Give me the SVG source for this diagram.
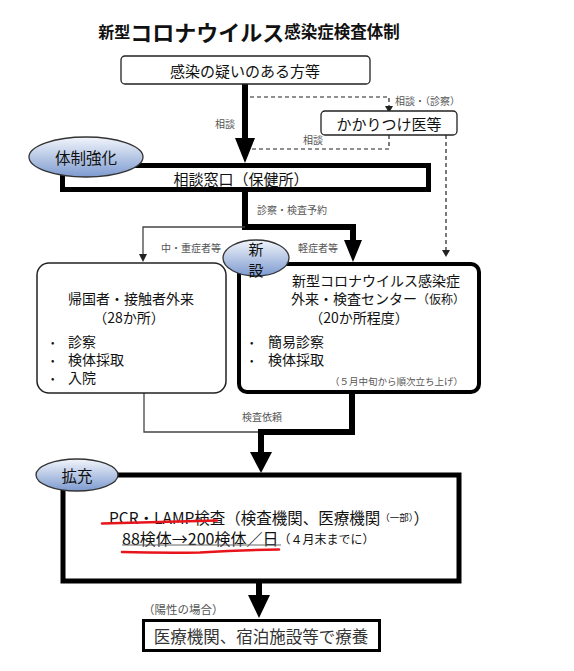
<svg xmlns="http://www.w3.org/2000/svg" width="574" height="671" viewBox="0 0 574 671">
<defs>
<linearGradient id="blue" x1="0" y1="0" x2="0" y2="1">
<stop offset="0" stop-color="#f2f5fb"/>
<stop offset="1" stop-color="#7d9bd0"/>
</linearGradient>
<style>
text{font-family:"Noto Sans CJK JP","Noto Sans",sans-serif;dominant-baseline:central;fill:#111}
.c{text-anchor:middle}
.lbl{font-size:10px;fill:#555}
.n{font-size:15px}
.b{font-size:10px}
.thick{fill:none;stroke:#000;stroke-width:6}
.thin{fill:none;stroke:#444;stroke-width:1.3}
.dash{fill:none;stroke:#222;stroke-width:1.2;stroke-dasharray:4 3}
.oval{fill:url(#blue);stroke:#333;stroke-width:1.3}
</style>
</defs>
<rect width="574" height="671" fill="#fff"/>
<g id="title">
<text x="249" y="31" class="c" style="font-weight:bold"><tspan font-size="16">新型</tspan><tspan font-size="22">コロナウイルス</tspan><tspan font-size="16.5">感染症検査体制</tspan></text>
</g>
<g id="connectors">
<line x1="245" y1="84" x2="245" y2="140" class="thick"/>
<polygon points="235,138 255,138 245,163" fill="#000"/>
<path d="M250,97 H389 V106" class="dash"/>
<polygon points="385,106 393,106 389,113" fill="#222"/>
<path d="M389,135 V149 H252" class="dash"/>
<path d="M446,135 V250" class="dash"/>
<polygon points="442,250 450,250 446,257" fill="#222"/>
<polyline points="245,192 245,227 353,227 353,242" class="thick"/>
<polygon points="344,240 362,240 353,262" fill="#000"/>
<polyline points="245,227 143,227 143,255" class="thin"/>
<polygon points="139,254 147,254 143,262" fill="#222"/>
<polyline points="144,393 144,432 262,432" class="thin"/>
<polyline points="352,392 352,432 261,432 261,454" class="thick"/>
<polygon points="250,452 272,452 261,473" fill="#000"/>
<line x1="259" y1="581" x2="259" y2="597" class="thick"/>
<polygon points="248,595 270,595 259,618" fill="#000"/>
<text x="215" y="123" class="lbl">相談</text>
<text x="395" y="100" class="lbl">相談・（診察）</text>
<text x="303" y="139" class="lbl">相談</text>
<text x="257" y="209" class="lbl">診察・検査予約</text>
<text x="161" y="247" class="lbl">中・重症者等</text>
<text x="298" y="247" class="lbl">軽症者等</text>
<text x="262" y="416" class="lbl c">検査依頼</text>
<text x="143" y="609" style="font-size:11.5px;fill:#555">（陽性の場合）</text>
</g>
<g id="suspected">
<rect x="121" y="56" width="249" height="28" rx="4" fill="#fff" stroke="#222" stroke-width="1.3"/>
<text x="245" y="70" class="c n">感染の疑いのある方等</text>
</g>
<g id="gp">
<rect x="321" y="111" width="136" height="24" rx="4" fill="#fff" stroke="#222" stroke-width="1.3"/>
<text x="389" y="123" class="c n">かかりつけ医等</text>
</g>
<g id="consult">
<rect x="62.5" y="165.5" width="366" height="24" fill="#fff" stroke="#000" stroke-width="5"/>
<text x="241" y="178" class="c n">相談窓口（保健所）</text>
</g>
<g id="tag-strengthen">
<ellipse cx="86" cy="157" rx="57" ry="20" class="oval"/>
<text x="86" y="157" class="c" font-size="15.5">体制強化</text>
</g>
<g id="returnee">
<rect x="37" y="263" width="189" height="130" rx="12" fill="#fff" stroke="#222" stroke-width="1.5"/>
<text x="131" y="298" class="c" font-size="14">帰国者・接触者外来</text>
<text x="129" y="317" class="c" font-size="14">（28か所）</text>
<text x="51" y="341" class="b">•</text>
<text x="68" y="341" font-size="14">診察</text>
<text x="51" y="359" class="b">•</text>
<text x="68" y="359" font-size="14">検体採取</text>
<text x="51" y="377" class="b">•</text>
<text x="68" y="377" font-size="14">入院</text>
</g>
<g id="center">
<rect x="239" y="264" width="240" height="128" rx="8" fill="#fff" stroke="#000" stroke-width="4"/>
<text x="376" y="280" class="c" font-size="14">新型コロナウイルス感染症</text>
<text x="291" y="298" font-size="14">外来・検査センター<tspan font-size="12">（仮称）</tspan></text>
<text x="359" y="317" class="c" font-size="14">（20か所程度）</text>
<text x="250" y="341" class="b">•</text>
<text x="268" y="341" font-size="14">簡易診察</text>
<text x="250" y="359" class="b">•</text>
<text x="268" y="359" font-size="14">検体採取</text>
<text x="463" y="381" style="font-size:9.5px;fill:#555;text-anchor:end">（５月中旬から順次立ち上げ）</text>
</g>
<g id="tag-new">
<ellipse cx="256" cy="258" rx="33" ry="18" class="oval"/>
<text x="256" y="248" class="c" font-size="15">新</text>
<text x="256" y="269" class="c" font-size="15">設</text>
</g>
<g id="pcr">
<rect x="63" y="475" width="396" height="106" fill="#fff" stroke="#000" stroke-width="5"/>
<text x="109" y="517" font-size="15.5">PCR・LAMP検査（検査機関、医療機関<tspan font-size="9.5">（一部）</tspan>）</text>
<text x="122" y="538" font-size="16">88検体→200検体／日<tspan font-size="12">（４月末までに）</tspan></text>
<line x1="122" y1="545" x2="281" y2="545" stroke="#666" stroke-width="1"/>
<path d="M102,523.5 Q160,522 217,520.5" fill="none" stroke="#e8141c" stroke-width="2.5" stroke-linecap="round"/>
<path d="M122,552 Q160,553 200,552.5 Q240,550 279,549.5" fill="none" stroke="#e8141c" stroke-width="2.5" stroke-linecap="round"/>
</g>
<g id="tag-expand">
<ellipse cx="77" cy="475" rx="41" ry="16" class="oval"/>
<text x="77" y="475" class="c" font-size="15.5">拡充</text>
</g>
<g id="care">
<rect x="143.5" y="620.5" width="236" height="30" fill="#fff" stroke="#000" stroke-width="3"/>
<text x="261" y="636" class="c" font-size="16.5" style="fill:#333">医療機関、宿泊施設等で療養</text>
</g>
</svg>
